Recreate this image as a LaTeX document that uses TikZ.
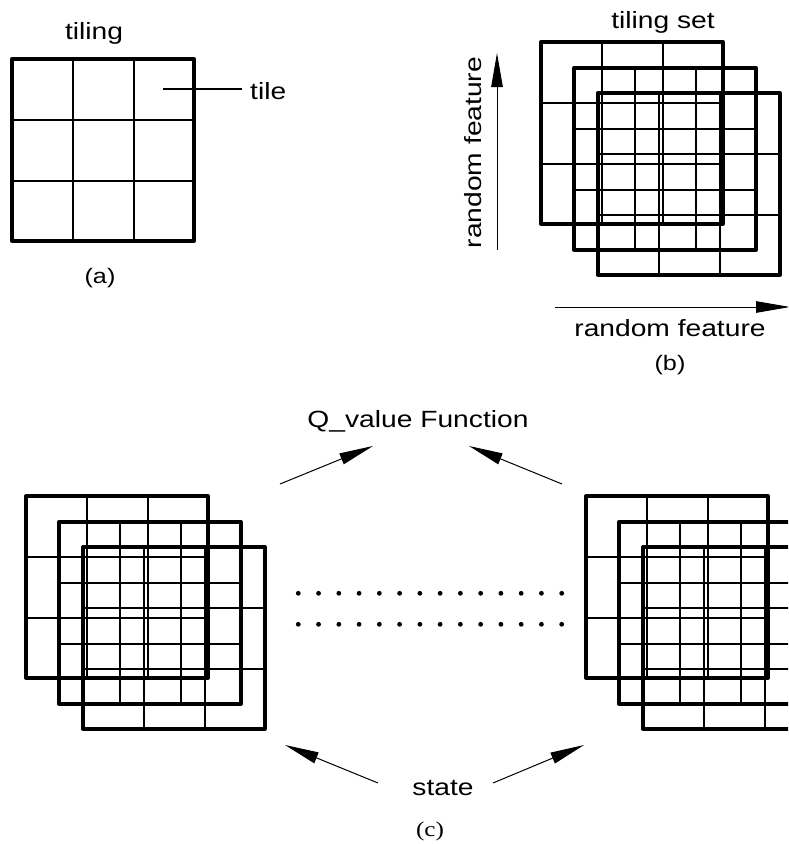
\documentclass[tikz,border=0pt]{standalone}
\usepackage{fontspec}
\setmainfont[FakeStretch=1.2]{Liberation Sans}
\newfontfamily\capserif[FakeStretch=1.2]{Liberation Serif}
\usetikzlibrary{arrows.meta}
\tikzset{
  thinl/.style={line width=1.2pt},
  thickl/.style={line width=3.3pt, line join=round},
  lbl/.style={font=\fontsize{23.5}{28}\selectfont, inner sep=0pt},
  caplbl/.style={font=\fontsize{21}{25}\selectfont, inner sep=0pt},
  arr/.style={line width=1pt, -{Triangle[length=34pt,width=11.5pt]}},
  sqr/.pic={
    \foreach \k in {61,122} {
      \draw[thinl] (\k,0) -- (\k,182);
      \draw[thinl] (0,\k) -- (182,\k);
    }
    \draw[thickl] (0,0) rectangle (182,182);
  },
  tset/.pic={
    \pic at (0,0) {sqr};
    \pic at (33,26) {sqr};
    \pic at (57,51) {sqr};
  }
}
\begin{document}
\begin{tikzpicture}[x=1pt,y=-1pt]
\useasboundingbox (0,0) rectangle (788,844);
\clip (0,0) rectangle (788,844);

% (a)
\pic at (12,59) {sqr};
\node[lbl, anchor=base] (tiling) at (94,39) {tiling};
\node[lbl, anchor=base west] (tile) at (250,99) {tile};
\coordinate (tileref) at (163,89);
\draw[thinl, shorten >=8pt] (tileref) -- (tile.west |- tileref);
\node[caplbl, anchor=base] (capa) at (100,283) {(a)};

% (b)
\pic at (541,42) {tset};
\node[lbl, anchor=base] (tset) at (663,28) {tiling set};
\node[lbl, rotate=90, anchor=base] (rfv) at (481,152.5) {random feature};
\coordinate (v0) at (497,250);
\coordinate (v1) at (497,53);
\draw[arr] (v0) -- (v1);
\coordinate (h0) at (555,307);
\coordinate (h1) at (790,307);
\draw[arr] (h0) -- (h1);
\node[lbl, anchor=base] (rfh) at (670,336) {random feature};
\node[caplbl, anchor=base] (capb) at (670,370) {(b)};

% (c)
\pic at (26,496) {tset};
\pic at (586,496) {tset};
\node[lbl, anchor=base] (qv) at (418,427) {Q\_value Function};
\node[lbl, anchor=base] (st) at (443,795) {state};
\node[caplbl, anchor=base, font=\capserif\fontsize{21}{25}\selectfont] (capc) at (430,836) {(c)};

\coordinate (tl0) at (280,484);
\coordinate (tl1) at (373,446);
\coordinate (tr0) at (562,484);
\coordinate (tr1) at (469,446);
\coordinate (bl0) at (378,783);
\coordinate (bl1) at (285,745);
\coordinate (br0) at (493,783);
\coordinate (br1) at (584,745);
\draw[arr] (tl0) -- (tl1);
\draw[arr] (tr0) -- (tr1);
\draw[arr] (bl0) -- (bl1);
\draw[arr] (br0) -- (br1);

\foreach \i in {0,...,13} {
  \fill ({298.3+\i*20.26},593.3) circle (2.4pt);
  \fill ({298.3+\i*20.26},624.3) circle (2.4pt);
}
\end{tikzpicture}
\end{document}
